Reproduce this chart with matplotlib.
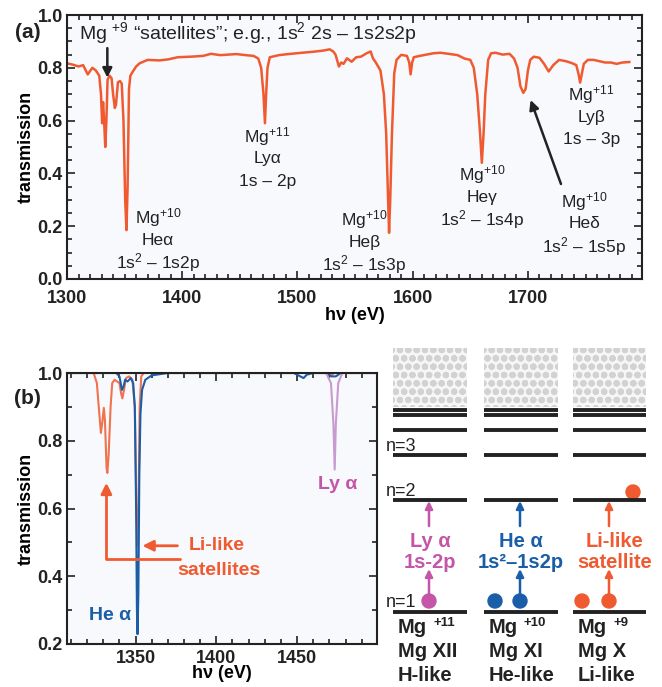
import matplotlib.pyplot as plt
from matplotlib.patches import Rectangle, Circle
from matplotlib.ticker import MultipleLocator

plt.rcParams['font.family'] = ['Liberation Sans', 'DejaVu Sans']
plt.rcParams['mathtext.fontset'] = 'custom'
plt.rcParams['mathtext.rm'] = 'Liberation Sans'
plt.rcParams['mathtext.bf'] = 'Liberation Sans:bold'
plt.rcParams['mathtext.default'] = 'regular'
plt.rcParams['hatch.linewidth'] = 2.2

ORANGE = '#f05a30'
BLUE = '#1a5ea8'
PURPLE = '#c455a8'
LIGHT_PURPLE = '#c79ad0'
DARK = '#222222'
FACE = '#f8f9fc'

# panel (a): measured transmission spectrum
energy_a = [1300, 1305, 1310, 1314, 1318, 1322, 1325, 1328, 1329.5, 1330.5, 1331.3, 1332.2,
            1333.2, 1334.2, 1335.2, 1337, 1338.7, 1340, 1341.5, 1342.5, 1344.2, 1346, 1347.5,
            1349, 1350.5, 1351.6, 1352.6, 1353.8, 1355, 1357, 1360, 1363, 1370, 1380, 1388,
            1396, 1407, 1418, 1425, 1433, 1440, 1447, 1455, 1462, 1466, 1468.5, 1470.5, 1471.8,
            1472.8, 1474, 1476, 1484, 1492, 1499, 1507, 1514, 1522, 1528, 1531, 1533, 1536,
            1538, 1540, 1543, 1547, 1551, 1555, 1560, 1563.5, 1565.5, 1568, 1572, 1575, 1577,
            1578.5, 1579.5, 1580.5, 1582, 1584, 1586, 1590, 1595, 1597, 1598.2, 1599.5, 1601,
            1606, 1612, 1618, 1624, 1631, 1639, 1645, 1650, 1653, 1656, 1658.5, 1660, 1661.5,
            1663, 1665.5, 1668, 1672, 1678, 1684, 1688, 1691, 1693.5, 1696, 1698, 1700, 1702,
            1705, 1710, 1714, 1718, 1722, 1727, 1733, 1738, 1742, 1744, 1745.3, 1746.5, 1748.5,
            1752, 1757, 1762, 1767, 1772, 1777, 1782, 1788]
trans_a = [0.817, 0.812, 0.805, 0.81, 0.775, 0.80, 0.79, 0.77, 0.70, 0.59, 0.67, 0.60,
           0.50, 0.60, 0.755, 0.77, 0.76, 0.70, 0.648, 0.66, 0.745, 0.75, 0.74,
           0.60, 0.30, 0.185, 0.35, 0.72, 0.77, 0.785, 0.805, 0.817, 0.83, 0.828, 0.832,
           0.84, 0.842, 0.845, 0.853, 0.848, 0.85, 0.852, 0.848, 0.845, 0.835, 0.80, 0.70, 0.59,
           0.70, 0.80, 0.84, 0.848, 0.852, 0.855, 0.858, 0.861, 0.865, 0.87, 0.862, 0.85, 0.805,
           0.82, 0.815, 0.836, 0.823, 0.84, 0.842, 0.855, 0.862, 0.836, 0.82, 0.79, 0.70, 0.55,
           0.33, 0.175, 0.30, 0.55, 0.78, 0.83, 0.849, 0.845, 0.82, 0.775, 0.82, 0.84,
           0.845, 0.85, 0.855, 0.857, 0.853, 0.848, 0.835, 0.83, 0.80, 0.70, 0.55, 0.44, 0.55,
           0.70, 0.83, 0.855, 0.857, 0.85, 0.853, 0.835, 0.80, 0.73, 0.705, 0.72, 0.79, 0.83,
           0.842, 0.838, 0.815, 0.786, 0.81, 0.83, 0.825, 0.818, 0.81, 0.775, 0.744, 0.77, 0.815,
           0.83, 0.83, 0.825, 0.82, 0.82, 0.815, 0.82, 0.822]

# panel (b): calculated spectra for each ion stage
energy_li = [1307, 1324, 1326, 1327.5, 1328.5, 1329.5, 1330.3, 1331, 1332, 1332.5, 1333.3,
             1334.5, 1335.5, 1337, 1338.5, 1340, 1341, 1341.8, 1342.8, 1344, 1346, 1348,
             1349.5, 1350.5, 1351.2, 1351.8, 1352.5, 1353.5, 1355, 1468, 1471, 1473, 1500]
trans_li = [1.0, 1.0, 0.97, 0.88, 0.823, 0.86, 0.897, 0.86, 0.72, 0.705, 0.76,
            0.9, 0.97, 0.98, 0.975, 0.97, 0.94, 0.925, 0.95, 0.985, 0.99, 0.98,
            0.9, 0.6, 0.49, 0.6, 0.9, 0.99, 1.0, 1.0, 0.993, 1.0, 1.0]
energy_he = [1307, 1338, 1340, 1341.5, 1342.5, 1343.5, 1345, 1347, 1348.5, 1349.5, 1350.3,
             1350.8, 1351.2, 1351.7, 1352.3, 1353, 1354, 1356, 1360, 1370, 1448, 1452, 1454,
             1456, 1460, 1468, 1471, 1474, 1477, 1500]
trans_he = [1.0, 1.0, 0.99, 0.95, 0.96, 0.98, 0.975, 0.985, 0.97, 0.9, 0.6,
            0.3, 0.229, 0.35, 0.7, 0.88, 0.95, 0.98, 0.993, 1.0, 1.0, 0.99, 0.985,
            0.995, 1.0, 1.0, 0.99, 0.99, 1.0, 1.0]
energy_h = [1307, 1468, 1471, 1472.5, 1473.3, 1474, 1475.5, 1478, 1500]
trans_h = [1.0, 1.0, 0.97, 0.85, 0.715, 0.85, 0.97, 1.0, 1.0]

# level diagram (schematic, in pixel units of the right-hand block)
columns = [(393, 467), (484, 558), (573, 646)]
level_y = [410, 415, 430, 455, 500, 612]
col_colors = [PURPLE, BLUE, ORANGE]
col_text1 = ['Ly α', 'He α', 'Li-like']
col_text2 = ['1s-2p', '1s²–1s2p', 'satellite']
ion_charge = ['+11', '+10', '+9']
ion_roman = ['Mg XII', 'Mg XI', 'Mg X']
ion_kind = ['H-like', 'He-like', 'Li-like']
n_labels = [('n=3', 447), ('n=2', 492), ('n=1', 603)]


def style_axes(ax, xpad):
    ax.set_facecolor(FACE)
    for sp in ax.spines.values():
        sp.set_color(DARK)
        sp.set_linewidth(1.5)
    ax.tick_params(which='both', direction='in', top=True, right=True,
                   colors=DARK, labelsize=13, width=1.2)
    ax.tick_params(which='major', length=6, pad=3)
    ax.tick_params(which='minor', length=3.5)
    ax.tick_params(axis='x', which='major', pad=xpad)
    for lab in ax.get_xticklabels() + ax.get_yticklabels():
        lab.set_fontweight('bold')


fig = plt.figure(figsize=(6.62, 6.87), dpi=100)

# ---- panel (a) ----
ax1 = fig.add_axes([67 / 662, 1 - 279 / 687, 575 / 662, 264 / 687])
ax1.plot(energy_a, trans_a, color=ORANGE, lw=1.8)
ax1.set_xlim(1300, 1799)
ax1.set_ylim(0, 1.0)
ax1.xaxis.set_major_locator(MultipleLocator(100))
ax1.xaxis.set_minor_locator(MultipleLocator(10))
ax1.yaxis.set_major_locator(MultipleLocator(0.2))
ax1.yaxis.set_minor_locator(MultipleLocator(0.05))
ax1.set_yticks([0, 0.2, 0.4, 0.6, 0.8, 1.0])
ax1.set_yticklabels(['0.0', '0.2', '0.4', '0.6', '0.8', '1.0'])
style_axes(ax1, xpad=8)
ax1.set_ylabel('transmission', fontsize=13, fontweight='bold', labelpad=2)
ax1.set_xlabel('hν (eV)', fontsize=13, fontweight='bold', labelpad=0)

ann = dict(fontsize=12.5, ha='center', va='center', color=DARK)
groups = [
    (1379, 0.231, ['Mg$^{+10}$', 'Heα', '1s$^2$ – 1s2p']),
    (1474, 0.54, ['Mg$^{+11}$', 'Lyα', '1s – 2p']),
    (1558, 0.224, ['Mg$^{+10}$', 'Heβ', '1s$^2$ – 1s3p']),
    (1660.5, 0.395, ['Mg$^{+10}$', 'Heγ', '1s$^2$ – 1s4p']),
    (1749, 0.294, ['Mg$^{+10}$', 'Heδ', '1s$^2$ – 1s5p']),
    (1755, 0.697, ['Mg$^{+11}$', 'Lyβ', '1s – 3p']),
]
for gx, gy, lines in groups:
    for i, s in enumerate(lines):
        ax1.text(gx, gy - i * 0.085, s, **ann)
ax1.text(1310, 0.93, 'Mg $^{+9}$ “satellites”; e.g., 1s$^2$ 2s – 1s2s2p',
         fontsize=14, ha='left', va='center', color=DARK)
ax1.annotate('', xy=(1335, 0.752), xytext=(1335, 0.885),
             arrowprops=dict(arrowstyle='-|>', color=DARK, lw=1.8, mutation_scale=14))
ax1.annotate('', xy=(1701.5, 0.688), xytext=(1729.5, 0.35),
             arrowprops=dict(arrowstyle='-|>', color=DARK, lw=1.8, mutation_scale=14))
fig.text(28 / 662, 1 - 33 / 687, '(a)', fontsize=15, fontweight='bold',
         ha='center', va='center', color=DARK)

# ---- panel (b) ----
ax2 = fig.add_axes([67 / 662, 1 - 644 / 687, 310 / 662, 271 / 687])
ax2.plot(energy_li, trans_li, color=ORANGE, lw=1.5, alpha=0.85)
ax2.plot(energy_he, trans_he, color=BLUE, lw=1.5)
ax2.plot(energy_h, trans_h, color=LIGHT_PURPLE, lw=1.5)
ax2.set_xlim(1307.5, 1499.5)
ax2.set_ylim(0.2, 1.0)
ax2.xaxis.set_major_locator(MultipleLocator(50))
ax2.xaxis.set_minor_locator(MultipleLocator(10))
ax2.yaxis.set_major_locator(MultipleLocator(0.2))
ax2.yaxis.set_minor_locator(MultipleLocator(0.1))
style_axes(ax2, xpad=4)
ax2.set_ylabel('transmission', fontsize=13, fontweight='bold', labelpad=2)
ax2.set_xlabel('hν (eV)', fontsize=13, fontweight='bold', labelpad=-1)

ax2.text(1334, 0.285, 'He α', color=BLUE, fontsize=14, fontweight='bold',
         ha='center', va='center')
ax2.text(1475, 0.671, 'Ly α', color=PURPLE, fontsize=14, fontweight='bold',
         ha='center', va='center')
ax2.text(1400, 0.49, 'Li-like', color=ORANGE, fontsize=14, fontweight='bold',
         ha='center', va='center')
ax2.text(1401.5, 0.416, 'satellites', color=ORANGE, fontsize=14, fontweight='bold',
         ha='center', va='center')
ax2.annotate('', xy=(1352.5, 0.49), xytext=(1377.6, 0.49),
             arrowprops=dict(arrowstyle='-|>', color=ORANGE, lw=2, mutation_scale=16))
ax2.annotate('', xy=(1331.9, 0.676), xytext=(1377.6, 0.452),
             arrowprops=dict(arrowstyle='-|>', color=ORANGE, lw=2, mutation_scale=16,
                             connectionstyle='angle,angleA=180,angleB=90,rad=0',
                             shrinkA=0, shrinkB=0))
fig.text(27 / 662, 1 - 398 / 687, '(b)', fontsize=15, fontweight='bold',
         ha='center', va='center', color=DARK)

# ---- level diagram ----
ax3 = fig.add_axes([380 / 662, 0, 282 / 662, 347 / 687])
ax3.set_xlim(380, 662)
ax3.set_ylim(687, 340)
ax3.axis('off')

for k, (x0, x1) in enumerate(columns):
    ax3.add_patch(Rectangle((x0, 348), x1 - x0, 59, facecolor='#f6f6f6',
                            edgecolor='#d2d2d2', hatch='oo', lw=0))
    for y in level_y:
        ax3.plot([x0, x1], [y, y], color=DARK, lw=2.8, solid_capstyle='butt')
    c = col_colors[k]
    xc = (x0 + x1) / 2
    ax_arrow = x0 + 36 if k == 0 else x1 - 38 if k == 1 else x0 + 36
    ax3.annotate('', xy=(ax_arrow, 569), xytext=(ax_arrow, 596),
                 arrowprops=dict(arrowstyle='-|>', color=c, lw=1.8, mutation_scale=11,
                                 shrinkA=0, shrinkB=0))
    ax3.annotate('', xy=(ax_arrow, 501), xytext=(ax_arrow, 526),
                 arrowprops=dict(arrowstyle='-|>', color=c, lw=1.8, mutation_scale=11,
                                 shrinkA=0, shrinkB=0))
    ax3.text(xc + (5 if k == 2 else 0), 542, col_text1[k], color=c, fontsize=14.5,
             fontweight='bold', ha='center', va='center')
    ax3.text(xc + (5 if k == 2 else 0), 563, col_text2[k], color=c, fontsize=14.5,
             fontweight='bold', ha='center', va='center')
    ax3.text(x0 + 5, 628, 'Mg', color=DARK, fontsize=14.5, fontweight='bold',
             ha='left', va='center')
    ax3.text(x0 + 40, 623, ion_charge[k], color=DARK, fontsize=9.5, fontweight='bold',
             ha='left', va='center')
    ax3.text(x0 + 5, 652, ion_roman[k], color=DARK, fontsize=14.5, fontweight='bold',
             ha='left', va='center')
    ax3.text(x0 + 5, 676, ion_kind[k], color=DARK, fontsize=14.5, fontweight='bold',
             ha='left', va='center')

# electrons
ax3.add_patch(Circle((429, 601), 7, color=PURPLE))
ax3.add_patch(Circle((495, 601), 7, color=BLUE))
ax3.add_patch(Circle((520, 601), 7, color=BLUE))
ax3.add_patch(Circle((582, 601), 7, color=ORANGE))
ax3.add_patch(Circle((609, 601), 7, color=ORANGE))
ax3.add_patch(Circle((633, 492), 7, color=ORANGE))

for lab, y in n_labels:
    ax3.text(386, y, lab, color=DARK, fontsize=13, ha='left', va='center')

fig.savefig('out.png', dpi=100, facecolor='white')
